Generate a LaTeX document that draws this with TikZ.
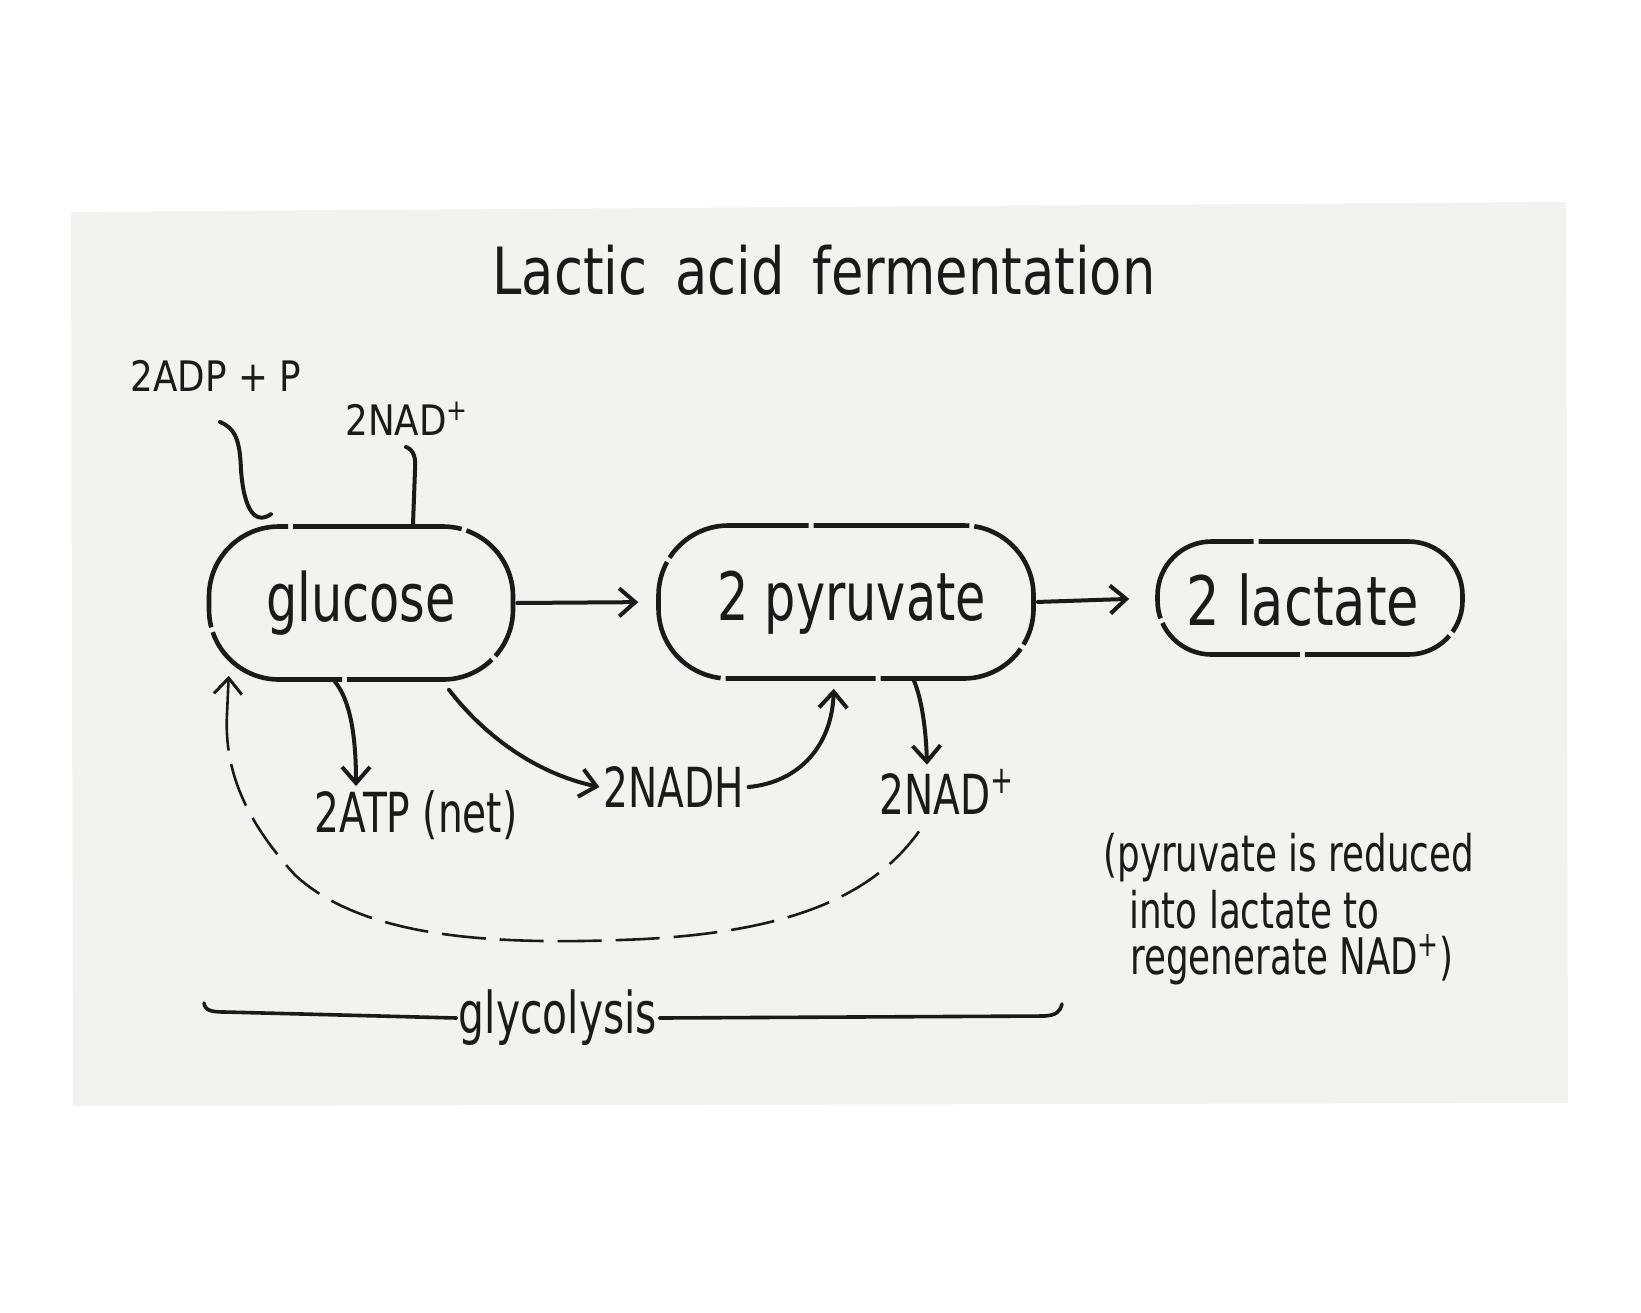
\documentclass[tikz,border=0pt]{standalone}
\usepackage{fontspec}
\setmainfont{DejaVu Sans}[FakeStretch=0.85]
\usepackage{graphicx}
\usetikzlibrary{arrows.meta}
\definecolor{ink}{HTML}{1A1A1A}
\definecolor{cardgray}{HTML}{F2F2F1}
\newcommand{\tallt}[2]{\scalebox{1}[#1]{#2}}
\begin{document}
\begin{tikzpicture}[x=0.5pt,y=-0.5pt,
  blob/.style={draw=ink, line width=2.3pt, rounded corners=35pt, inner sep=0pt,
     dash pattern=on 75pt off 2.5pt},
  lbl/.style={text=ink, inner sep=2pt},
  conn/.style={draw=ink, line width=2pt, line cap=round},
  arr/.style={conn, -{Straight Barb[length=8pt,width=14pt,line width=2pt]}},
  dashline/.style={draw=ink, line width=1.3pt, dash pattern=on 22pt off 7pt},
  dashtip/.style={draw=ink, line width=1.3pt, solid,
     -{Straight Barb[length=8pt,width=14pt,line width=1.5pt]}},
  bracket/.style={draw=ink, line width=1.8pt, line cap=round},
  bigf/.style={font=\fontsize{29}{32}\selectfont},
  midf/.style={font=\fontsize{23}{26}\selectfont},
  topf/.style={font=\fontsize{21}{24}\selectfont},
  notef/.style={font=\fontsize{21}{24}\selectfont}
]
\useasboundingbox (0,0) rectangle (1641,1312);
\fill[white] (0,0) rectangle (1641,1312);
\fill[cardgray] (71,212) -- (1566,202) -- (1568,1103) -- (73,1106) -- cycle;

% title
\node[lbl, font=\fontsize{31}{34}\selectfont] (title) at (824,270)
  {\tallt{1.05}{Lactic\hspace{0.45em}acid\hspace{0.45em}fermentation}};

% main boxes
\node[blob, minimum width=152pt, minimum height=76.5pt] (glucose) at (361,603) {};
\node[lbl, bigf] (glucoseT) at (361,603) {\tallt{1.15}{glucose}};
\node[blob, minimum width=187.5pt, minimum height=76.5pt] (pyruvate) at (846,602) {};
\node[lbl, bigf] (pyruvateT) at (852,603) {\tallt{1.15}{2 pyruvate}};
\node[blob, minimum width=152.5pt, minimum height=56.5pt, rounded corners=27pt] (lactate) at (1310,598) {};
\node[lbl, font=\fontsize{31}{34}\selectfont] (lactateT) at (1303,600) {\tallt{1.1}{2 lactate}};

% small labels
\node[lbl, topf] (adp) at (216,376) {2ADP + P};
\node[lbl, topf] (nadtop) at (407,419) {2NAD\textsuperscript{+}};
\node[lbl, midf] (atp) at (416,815) {\tallt{1.2}{2ATP (net)}};
\node[lbl, midf] (nadh) at (674,787) {\tallt{1.2}{2NADH}};
\node[lbl, midf] (nadb) at (947,792) {\tallt{1.2}{2NAD\textsuperscript{+}}};

% note
\node[lbl, notef, anchor=west] (note1) at (1099,858) {\tallt{1.2}{(pyruvate is reduced}};
\node[lbl, notef, anchor=west] (note2) at (1125,910) {\tallt{1.2}{into lactate to}};
\node[lbl, notef, anchor=west] (note3) at (1126,960) {\tallt{1.2}{regenerate NAD\textsuperscript{+})}};

% inputs to glucose
\coordinate (adpEnd) at (220,422);
\coordinate (nadEnd) at (406,447);
\draw[conn] (adpEnd) .. controls (235,428) and (240,440) .. (241,470)
   .. controls (244,510) and (255,525) .. ([xshift=-45pt,yshift=5pt]glucose.north);
\draw[conn] (nadEnd) .. controls (414,450) and (416,458) .. (415,470) -- ([xshift=26pt]glucose.north);

% main arrows
\draw[arr, shorten <=1pt, shorten >=9pt] (glucose.east) -- (pyruvate.west);
\draw[arr, shorten <=1pt, shorten >=13pt] (pyruvate.east) -- (lactate.west);

% outputs
\draw[arr] ([xshift=-13pt]glucose.south) .. controls (350,700) and (356,735) .. ([xshift=-30pt]atp.north);
\draw[arr] ([xshift=44pt,yshift=-4pt]glucose.south) .. controls (480,730) and (530,772) .. (nadh.west);
\draw[arr, shorten >=4pt] (nadh.east) .. controls (800,782) and (832,745) .. ([xshift=-6pt]pyruvate.south);
\draw[arr] ([xshift=34pt]pyruvate.south) .. controls (922,700) and (926,730) .. ([xshift=-10pt]nadb.north);

% dashed recycling loop
\coordinate (loopTop) at (227,714);
\draw[dashline] ([xshift=-14pt,yshift=-6pt]nadb.south)
   .. controls (870,900) and (780,935) .. (620,940)
   .. controls (480,945) and (360,935) .. (295,875)
   .. controls (245,820) and (224,770) .. (loopTop);
\draw[dashtip, shorten >=3pt] (loopTop) -- ([xshift=-66pt,yshift=6pt]glucose.south);

% glycolysis bracket
\node[lbl, inner sep=1pt, font=\fontsize{24}{27}\selectfont] (glyc) at (558,1018) {\tallt{1.2}{glycolysis}};
\coordinate (brL) at (204,1003);
\coordinate (brR) at (1062,1004);
\draw[bracket] (brL) .. controls (205,1010) and (210,1012) .. (225,1012) -- (glyc.west);
\draw[bracket] (glyc.east) -- (1045,1016) .. controls (1056,1015) and (1060,1012) .. (brR);
\end{tikzpicture}
\end{document}
